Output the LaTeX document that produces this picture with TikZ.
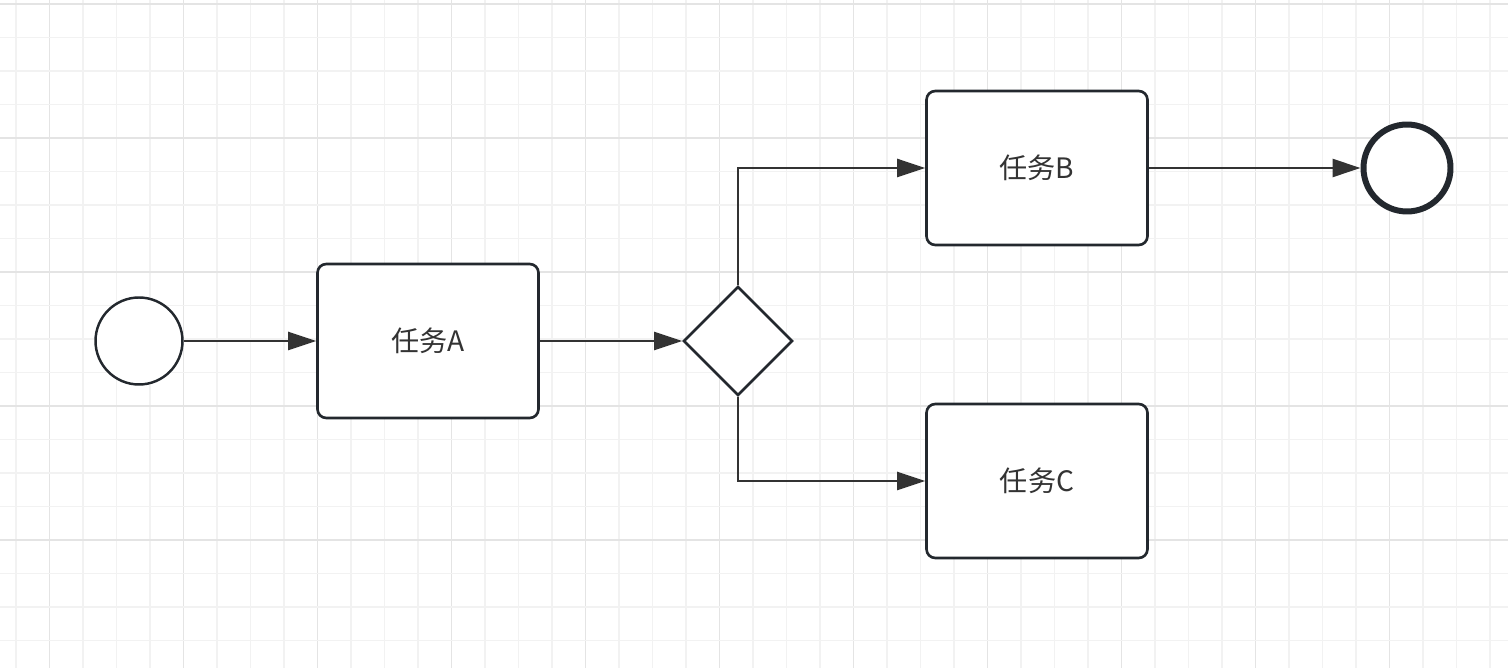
\documentclass[tikz,border=0pt]{standalone}
\usepackage{fontspec}
\newfontfamily\cjk{Noto Sans CJK SC}
\usepackage{tikz}
\usetikzlibrary{arrows.meta,positioning,shapes.geometric}
\definecolor{ink}{RGB}{35,40,46}
\definecolor{wire}{RGB}{51,51,51}
\definecolor{txt}{RGB}{51,51,51}
\definecolor{gridminor}{RGB}{242,242,242}
\definecolor{gridmajor}{RGB}{228,228,228}
\tikzset{
  task/.style={draw=ink, fill=white, rounded corners=5pt, line width=1.5pt, minimum width=4.42cm, minimum height=3.08cm, inner sep=0pt, font=\cjk\fontsize{16}{19}\selectfont, text=txt},
  startev/.style={circle, draw=ink, fill=white, line width=1.4pt, minimum size=1.74cm, inner sep=0pt},
  endev/.style={circle, draw=ink, fill=white, line width=3.4pt, minimum size=1.74cm, inner sep=0pt},
  gate/.style={diamond, aspect=1, draw=ink, fill=white, line width=1.5pt, minimum width=2.18cm, minimum height=2.18cm, inner sep=0pt},
  flow/.style={-{Triangle[length=0.56cm, width=0.36cm]}, draw=wire, line width=1.4pt},
}
\begin{document}
\begin{tikzpicture}[x=0.02cm, y=-0.02cm]
  \useasboundingbox[fill=white] (0,0) rectangle (1508,668);
  % grid
  \foreach \k in {0,...,44} {
    \pgfmathtruncatemacro\m{mod(\k,4)}
    \ifnum\m=1 \draw[gridmajor, line width=1.1pt] ({16+33.5*\k},0) -- ({16+33.5*\k},668);
    \else \draw[gridminor, line width=0.8pt] ({16+33.5*\k},0) -- ({16+33.5*\k},668); \fi
  }
  \foreach \k in {0,...,19} {
    \pgfmathtruncatemacro\m{mod(\k,4)}
    \ifnum\m=0 \draw[gridmajor, line width=1.1pt] (0,{4+33.5*\k}) -- (1508,{4+33.5*\k});
    \else \draw[gridminor, line width=0.8pt] (0,{4+33.5*\k}) -- (1508,{4+33.5*\k}); \fi
  }
  % process
  \node[startev] (start) at (139,341) {};
  \node[task] (ta) at (428,341) {任务A};
  \node[gate] (xor) at (738,341) {};
  \node[task] (tb) at (1037,168) {任务B};
  \node[task] (tc) at (1037,481) {任务C};
  \node[endev] (stop) at (1407,168) {};
  \draw[flow] (start) -- (ta);
  \draw[flow] (ta) -- (xor);
  \draw[flow] (xor.north) |- (tb);
  \draw[flow] (xor.south) |- (tc);
  \draw[flow] (tb) -- (stop);
\end{tikzpicture}
\end{document}
